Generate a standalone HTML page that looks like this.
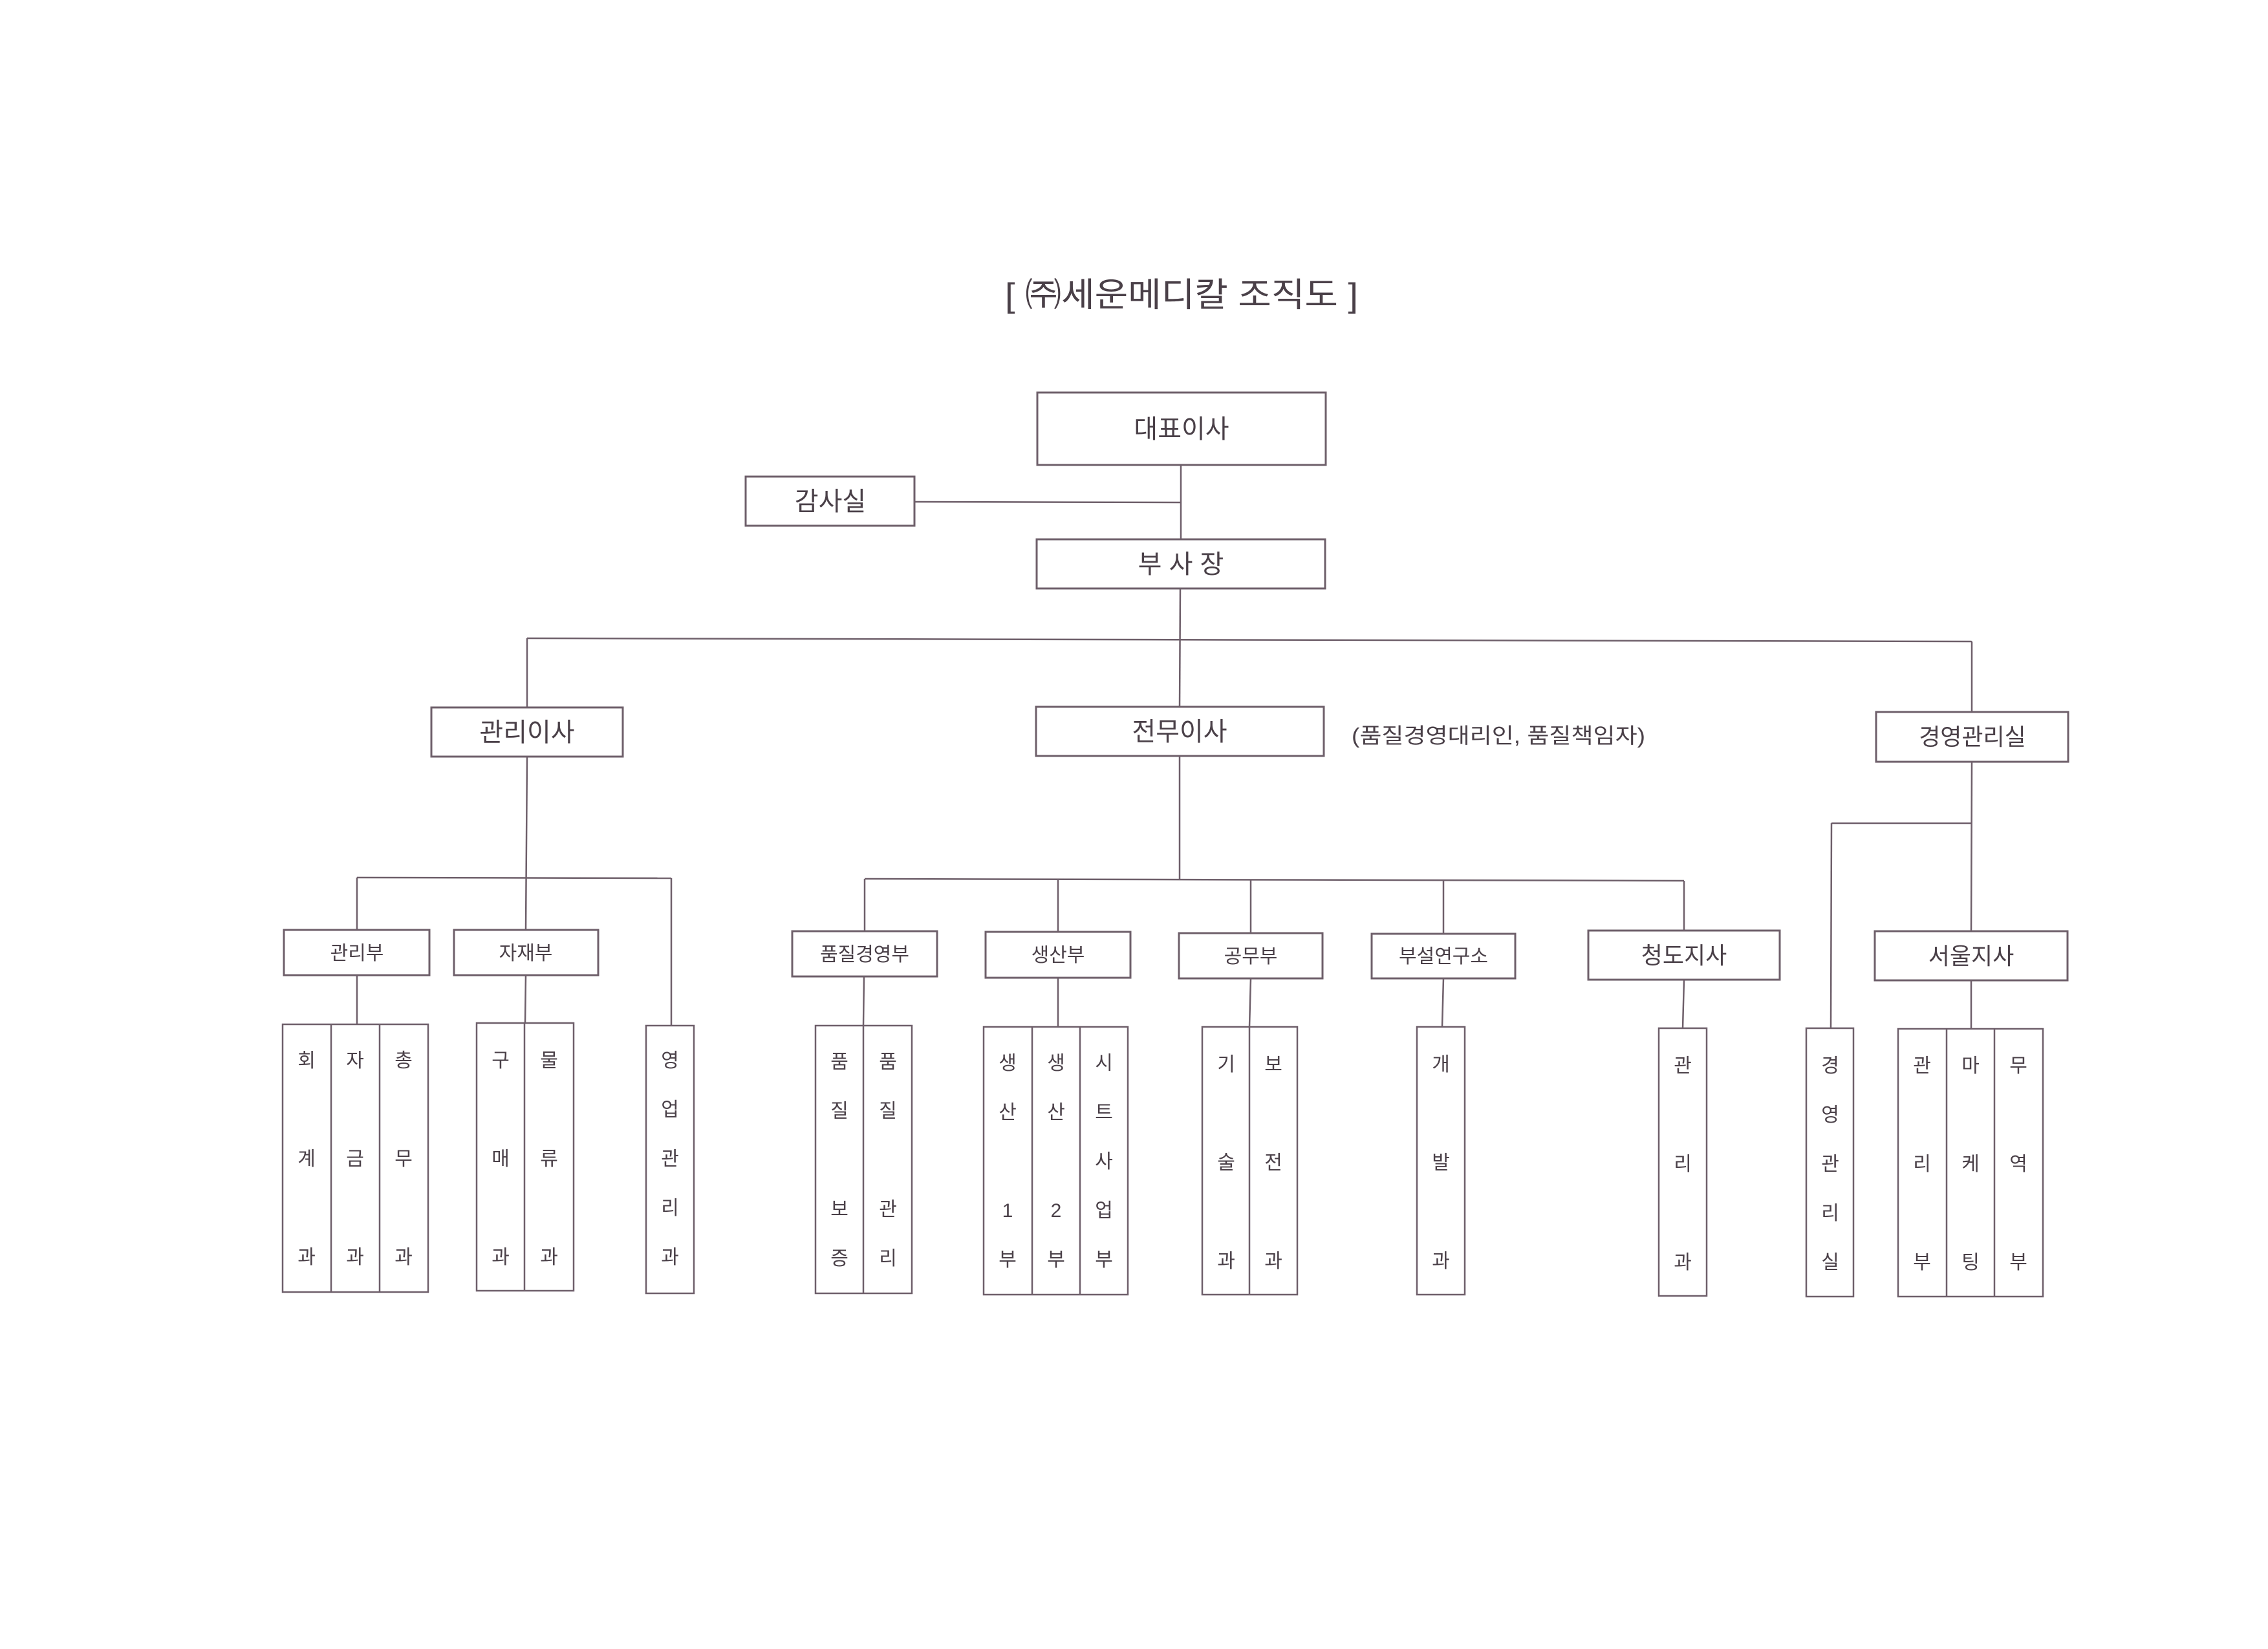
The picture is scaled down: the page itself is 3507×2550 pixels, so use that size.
<!DOCTYPE html>
<html><head><meta charset="utf-8"><style>
html,body{margin:0;padding:0;background:#fff;}
svg{display:block;}
text{font-family:"Liberation Sans","Noto Sans CJK KR",sans-serif;fill:#4a4048;}
</style></head><body>
<svg width="3507" height="2550" viewBox="0 0 3507 2550" xmlns="http://www.w3.org/2000/svg">
<g stroke="#6e5f6a" stroke-width="2.5" fill="none">
<!-- top connectors -->
<line x1="1826" y1="719" x2="1826" y2="833"/>
<line x1="1414" y1="776" x2="1826" y2="777"/>
<line x1="1825" y1="910" x2="1824" y2="1093"/>
<line x1="815" y1="987" x2="3049" y2="992"/>
<line x1="815" y1="987" x2="815" y2="1094"/>
<line x1="3049" y1="992" x2="3049" y2="1101"/>
<!-- 관리이사 branch -->
<line x1="815" y1="1170" x2="813" y2="1438"/>
<line x1="552" y1="1357" x2="1038" y2="1358"/>
<line x1="552" y1="1357" x2="552" y2="1438"/>
<line x1="1038" y1="1358" x2="1038" y2="1586"/>
<line x1="552" y1="1508" x2="552" y2="1584"/>
<line x1="813" y1="1508" x2="812" y2="1582"/>
<!-- 전무이사 branch -->
<line x1="1824" y1="1169" x2="1824" y2="1360"/>
<line x1="1337" y1="1359" x2="2604" y2="1362"/>
<line x1="1337" y1="1359" x2="1337" y2="1440"/>
<line x1="1636" y1="1360" x2="1636" y2="1441"/>
<line x1="1934" y1="1361" x2="1934" y2="1443"/>
<line x1="2232" y1="1361" x2="2232" y2="1444"/>
<line x1="2604" y1="1362" x2="2604" y2="1439"/>
<line x1="1336" y1="1510" x2="1335" y2="1586"/>
<line x1="1636" y1="1512" x2="1636" y2="1588"/>
<line x1="1934" y1="1513" x2="1932" y2="1588"/>
<line x1="2232" y1="1513" x2="2230" y2="1588"/>
<line x1="2604" y1="1515" x2="2602" y2="1590"/>
<!-- 경영관리실 branch -->
<line x1="3049" y1="1178" x2="3048" y2="1440"/>
<line x1="2832" y1="1273" x2="3049" y2="1273"/>
<line x1="2832" y1="1273" x2="2831" y2="1590"/>
<line x1="3048" y1="1516" x2="3048" y2="1591"/>
</g>

<g stroke="#6e5f6a" fill="#fff">
<!-- main boxes -->
<rect x="1604" y="607" width="446" height="112" stroke-width="3"/>
<rect x="1153" y="737" width="261" height="76" stroke-width="3"/>
<rect x="1603" y="834" width="446" height="76" stroke-width="3"/>
<rect x="667" y="1094" width="296" height="76" stroke-width="3"/>
<rect x="1602" y="1093" width="445" height="76" stroke-width="3"/>
<rect x="2901" y="1101" width="297" height="77" stroke-width="3"/>
<!-- second level -->
<rect x="439" y="1438" width="225" height="70" stroke-width="3"/>
<rect x="702" y="1438" width="223" height="70" stroke-width="3"/>
<rect x="1225" y="1440" width="224" height="70" stroke-width="3"/>
<rect x="1524" y="1441" width="224" height="71" stroke-width="3"/>
<rect x="1823" y="1443" width="222" height="70" stroke-width="3"/>
<rect x="2121" y="1444" width="222" height="69" stroke-width="3"/>
<rect x="2456" y="1439" width="296" height="76" stroke-width="3"/>
<rect x="2899" y="1440" width="298" height="76" stroke-width="3"/>
<!-- sub boxes -->
<rect x="437" y="1584" width="225" height="414" stroke-width="2.5"/>
<rect x="737" y="1582" width="150" height="414" stroke-width="2.5"/>
<rect x="999" y="1586" width="74" height="414" stroke-width="2.5"/>
<rect x="1261" y="1586" width="149" height="414" stroke-width="2.5"/>
<rect x="1521" y="1588" width="223" height="414" stroke-width="2.5"/>
<rect x="1859" y="1588" width="147" height="414" stroke-width="2.5"/>
<rect x="2191" y="1588" width="74" height="414" stroke-width="2.5"/>
<rect x="2565" y="1590" width="74" height="414" stroke-width="2.5"/>
<rect x="2793" y="1590" width="73" height="415" stroke-width="2.5"/>
<rect x="2935" y="1591" width="224" height="414" stroke-width="2.5"/>
</g>
<g stroke="#6e5f6a" stroke-width="2.5">
<line x1="512" y1="1584" x2="512" y2="1998"/>
<line x1="587" y1="1584" x2="587" y2="1998"/>
<line x1="811" y1="1582" x2="811" y2="1996"/>
<line x1="1335" y1="1586" x2="1335" y2="2000"/>
<line x1="1596" y1="1588" x2="1596" y2="2002"/>
<line x1="1670" y1="1588" x2="1670" y2="2002"/>
<line x1="1932" y1="1588" x2="1932" y2="2002"/>
<line x1="3010" y1="1591" x2="3010" y2="2005"/>
<line x1="3084" y1="1591" x2="3084" y2="2005"/>
</g>

<text x="1827" y="474" font-size="52" text-anchor="middle" textLength="546" lengthAdjust="spacingAndGlyphs">[ ㈜세운메디칼 조직도 ]</text>
<g font-size="40" text-anchor="middle">
<text x="1827" y="677">대표이사</text>
<text x="1284" y="789">감사실</text>
<text x="1826" y="886">부 사 장</text>
<text x="815" y="1146">관리이사</text>
<text x="1824" y="1145">전무이사</text>
</g>
<text x="2090" y="1149" font-size="33" textLength="454" lengthAdjust="spacingAndGlyphs">(품질경영대리인, 품질책임자)</text>
<g font-size="36" text-anchor="middle">
<text x="3050" y="1152">경영관리실</text>
<text x="2604" y="1490">청도지사</text>
<text x="3048" y="1491">서울지사</text>
</g>
<g font-size="30" text-anchor="middle">
<text x="552" y="1484">관리부</text>
<text x="813" y="1484">자재부</text>
<text x="1337" y="1486">품질경영부</text>
<text x="1636" y="1487">생산부</text>
<text x="1934" y="1489">공무부</text>
<text x="2232" y="1489">부설연구소</text>
</g>
<g font-size="30" text-anchor="middle">
<!-- rows: 1650 1726 1802 1878 1954 -->
<text x="474" y="1650">회</text><text x="474" y="1802">계</text><text x="474" y="1954">과</text>
<text x="549" y="1650">자</text><text x="549" y="1802">금</text><text x="549" y="1954">과</text>
<text x="624" y="1650">총</text><text x="624" y="1802">무</text><text x="624" y="1954">과</text>
<text x="774" y="1650">구</text><text x="774" y="1802">매</text><text x="774" y="1954">과</text>
<text x="849" y="1650">물</text><text x="849" y="1802">류</text><text x="849" y="1954">과</text>
<text x="1036" y="1650">영</text><text x="1036" y="1726">업</text><text x="1036" y="1802">관</text><text x="1036" y="1878">리</text><text x="1036" y="1954">과</text>
<text x="1298" y="1652">품</text><text x="1298" y="1728">질</text><text x="1298" y="1880">보</text><text x="1298" y="1956">증</text>
<text x="1373" y="1652">품</text><text x="1373" y="1728">질</text><text x="1373" y="1880">관</text><text x="1373" y="1956">리</text>
<text x="1558" y="1654">생</text><text x="1558" y="1730">산</text><text x="1558" y="1882">1</text><text x="1558" y="1958">부</text>
<text x="1633" y="1654">생</text><text x="1633" y="1730">산</text><text x="1633" y="1882">2</text><text x="1633" y="1958">부</text>
<text x="1707" y="1654">시</text><text x="1707" y="1730">트</text><text x="1707" y="1806">사</text><text x="1707" y="1882">업</text><text x="1707" y="1958">부</text>
<text x="1896" y="1656">기</text><text x="1896" y="1808">술</text><text x="1896" y="1960">과</text>
<text x="1969" y="1656">보</text><text x="1969" y="1808">전</text><text x="1969" y="1960">과</text>
<text x="2228" y="1656">개</text><text x="2228" y="1808">발</text><text x="2228" y="1960">과</text>
<text x="2602" y="1658">관</text><text x="2602" y="1810">리</text><text x="2602" y="1962">과</text>
<text x="2830" y="1658">경</text><text x="2830" y="1734">영</text><text x="2830" y="1810">관</text><text x="2830" y="1886">리</text><text x="2830" y="1962">실</text>
<text x="2972" y="1658">관</text><text x="2972" y="1810">리</text><text x="2972" y="1962">부</text>
<text x="3047" y="1658">마</text><text x="3047" y="1810">케</text><text x="3047" y="1962">팅</text>
<text x="3121" y="1658">무</text><text x="3121" y="1810">역</text><text x="3121" y="1962">부</text>
</g>
</svg>
</body></html>
